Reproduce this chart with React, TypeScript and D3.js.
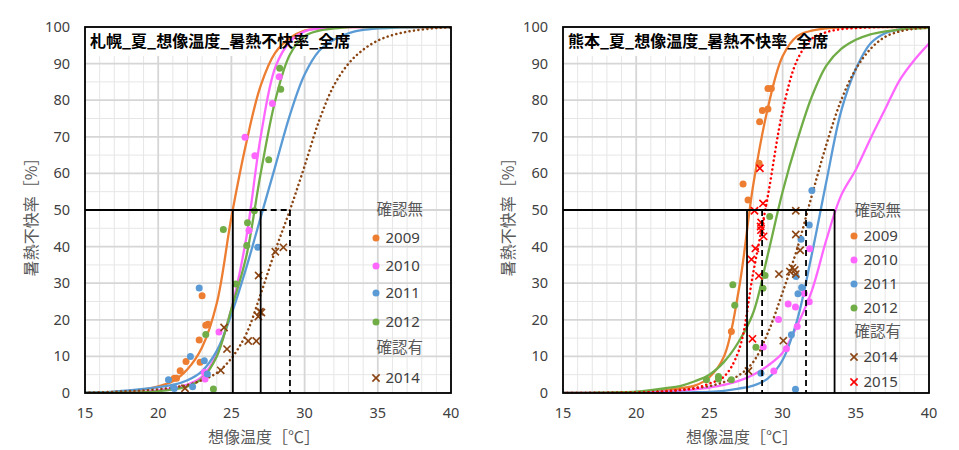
import React from "react";
import * as d3 from "d3";

// ---------- shared axis data ----------
const TEMPS = [15, 16, 17, 18, 19, 20, 21, 22, 23, 24, 25, 26, 27, 28, 29, 30, 31, 32, 33, 34, 35, 36, 37, 38, 39, 40];
const X_TICKS = [15, 20, 25, 30, 35, 40];
const Y_TICKS = [0, 10, 20, 30, 40, 50, 60, 70, 80, 90, 100];
const Y_MINOR = [5, 15, 25, 35, 45, 55, 65, 75, 85, 95];
const X_TITLE = "想像温度［℃］";
const Y_TITLE = "暑熱不快率［%］";
const GROUP_NO = "確認無";
const GROUP_YES = "確認有";

// ---------- Sapporo ----------
const SAP_TITLE = "札幌_夏_想像温度_暑熱不快率_全席";
const SAP_2009_CURVE = [0.1, 0.2, 0.3, 0.5, 1, 1.8, 3.2, 6.5, 12.5, 24.5, 48, 68, 84, 93, 97, 99, 99.6, 99.9, 100, 100, 100, 100, 100, 100, 100, 100];
const SAP_2010_CURVE = [0, 0, 0.05, 0.1, 0.3, 0.7, 1.3, 2.3, 4.5, 10.5, 23, 42, 70, 89, 96, 98.8, 99.6, 100, 100, 100, 100, 100, 100, 100, 100, 100];
const SAP_2011_CURVE = [0.1, 0.2, 0.4, 0.7, 1.1, 1.6, 2.2, 3.5, 6, 11.5, 21.5, 34, 48, 62, 76, 87, 93.5, 96.5, 98.3, 99.2, 99.6, 99.8, 99.9, 100, 100, 100];
const SAP_2012_CURVE = [0, 0, 0.05, 0.1, 0.2, 0.5, 1, 1.8, 4, 10, 23, 37, 60, 80, 92.5, 97.5, 99, 99.6, 100, 100, 100, 100, 100, 100, 100, 100];
const SAP_2014_CURVE = [0.1, 0.2, 0.3, 0.5, 0.7, 1, 1.5, 2.2, 3.5, 5.5, 9.5, 16, 27, 39, 50, 62, 74.5, 84, 90, 93.8, 96.3, 97.8, 98.7, 99.3, 99.7, 99.9];

const SAP_2009_PTS = [[23.0, 26.6], [23.4, 18.8], [23.25, 18.5], [22.8, 14.5], [22.86, 8.4], [21.9, 8.6], [21.5, 6.1], [21.25, 4.0], [21.1, 4.0]];
const SAP_2010_PTS = [[25.93, 69.9], [26.6, 64.8], [26.2, 44.4], [24.15, 16.7], [23.15, 5.7], [23.2, 3.8], [27.8, 79.1], [28.27, 86.4]];
const SAP_2011_PTS = [[22.8, 28.7], [22.2, 10.0], [23.15, 8.8], [23.36, 5.2], [20.7, 3.6], [21.05, 1.6], [21.1, 1.2], [22.35, 1.7], [26.8, 39.8]];
const SAP_2012_PTS = [[28.3, 88.7], [28.37, 83.0], [27.55, 63.7], [26.57, 49.8], [26.1, 46.5], [26.05, 40.3], [24.45, 44.7], [25.3, 29.8], [23.25, 16.0], [23.77, 1.1]];
const SAP_2014_PTS = [[24.5, 17.9], [24.7, 12.0], [24.27, 6.2], [21.83, 1.3], [26.86, 32.1], [26.95, 22.2], [27.05, 22.0], [26.84, 20.9], [26.15, 14.2], [26.7, 14.2], [28.0, 38.6], [28.55, 39.8]];

const SAP_SOLID_REFS = [25.1, 27.0];
const SAP_DASHED_REFS = [29.0];

// ---------- Kumamoto ----------
const KUM_TITLE = "熊本_夏_想像温度_暑熱不快率_全席";
const KUM_2009_CURVE = [0, 0, 0, 0.05, 0.1, 0.2, 0.4, 0.8, 1.3, 2, 4.3, 10, 28, 57, 78, 92, 97.5, 99, 99.6, 99.9, 100, 100, 100, 100, 100, 100];
const KUM_2010_CURVE = [0, 0, 0, 0.05, 0.1, 0.15, 0.25, 0.4, 0.6, 1, 1.5, 2.2, 3.3, 5, 7.5, 11, 18.5, 28, 42, 54, 61, 69.5, 77.5, 85.5, 91, 95.5];
const KUM_2011_CURVE = [0, 0, 0, 0, 0, 0, 0, 0.05, 0.1, 0.2, 0.3, 0.6, 1.2, 2, 4, 9, 20, 38, 58, 77, 88.5, 95.5, 98.3, 99.4, 99.8, 100];
const KUM_2012_CURVE = [0, 0, 0.05, 0.1, 0.2, 0.4, 0.8, 1.3, 1.9, 3.2, 5, 8.5, 14, 22, 38, 55, 69, 81, 89.5, 94, 96.5, 98, 98.8, 99.3, 99.6, 99.8];
const KUM_2014_CURVE = [0, 0, 0.05, 0.1, 0.15, 0.2, 0.3, 0.5, 0.8, 1.3, 1.9, 3, 4.8, 8.5, 16.5, 27.5, 39.5, 54, 68, 80, 88.5, 94, 97.3, 98.8, 99.5, 99.8];
const KUM_2015_CURVE = [0, 0, 0, 0, 0.05, 0.1, 0.2, 0.4, 0.8, 1.3, 2.6, 4.5, 11.5, 33, 54, 77, 91, 96.8, 98.6, 99.4, 99.7, 99.9, 100, 100, 100, 100];

const KUM_2009_PTS = [[29.0, 83.2], [29.23, 83.2], [28.62, 77.2], [29.0, 77.6], [28.43, 74.1], [28.39, 62.8], [27.3, 57.1], [27.64, 52.7], [26.5, 16.8]];
const KUM_2010_PTS = [[31.85, 39.4], [31.82, 24.9], [31.48, 27.2], [30.38, 24.3], [30.88, 23.5], [29.72, 20.1], [31.0, 18.2], [30.26, 12.1], [28.68, 12.6], [29.4, 6.0]];
const KUM_2011_PTS = [[32.0, 55.3], [31.82, 45.9], [31.26, 42.0], [30.92, 31.8], [31.3, 28.8], [31.05, 27.1], [30.6, 15.9], [28.52, 5.4], [30.88, 1.0]];
const KUM_2012_PTS = [[29.12, 48.2], [28.8, 32.1], [28.66, 28.6], [26.6, 29.6], [26.73, 24.0], [28.18, 12.5], [26.5, 3.6], [25.62, 4.5], [25.62, 3.8], [24.8, 3.6]];
const KUM_2014_PTS = [[30.9, 49.8], [30.9, 43.3], [31.2, 39.0], [29.75, 32.5], [30.67, 34.2], [30.83, 33.6], [30.5, 33.2], [30.9, 32.5], [30.05, 14.3], [27.67, 6.0]];
const KUM_2015_PTS = [[28.45, 61.4], [28.66, 51.8], [28.08, 49.8], [28.53, 46.6], [28.5, 45.5], [28.52, 44.5], [28.7, 42.8], [28.14, 39.5], [27.87, 36.5], [28.38, 32.0], [27.94, 14.8]];

const KUM_SOLID_REFS = [27.57, 33.55];
const KUM_DASHED_REFS = [28.6, 31.6];

// ---------- styles ----------
const COLORS: Record<string, string> = {
  "2009": "#ED7D31",
  "2010": "#FF66FF",
  "2011": "#5B9BD5",
  "2012": "#70AD47",
  "2014": "#8B4513",
  "2015": "#FF0000",
};

type Series = { year: string; curve: number[]; pts: number[][]; confirmed: boolean };

const SAP_SERIES: Series[] = [
  { year: "2009", curve: SAP_2009_CURVE, pts: SAP_2009_PTS, confirmed: false },
  { year: "2010", curve: SAP_2010_CURVE, pts: SAP_2010_PTS, confirmed: false },
  { year: "2011", curve: SAP_2011_CURVE, pts: SAP_2011_PTS, confirmed: false },
  { year: "2012", curve: SAP_2012_CURVE, pts: SAP_2012_PTS, confirmed: false },
  { year: "2014", curve: SAP_2014_CURVE, pts: SAP_2014_PTS, confirmed: true },
];
const KUM_SERIES: Series[] = [
  { year: "2009", curve: KUM_2009_CURVE, pts: KUM_2009_PTS, confirmed: false },
  { year: "2010", curve: KUM_2010_CURVE, pts: KUM_2010_PTS, confirmed: false },
  { year: "2011", curve: KUM_2011_CURVE, pts: KUM_2011_PTS, confirmed: false },
  { year: "2012", curve: KUM_2012_CURVE, pts: KUM_2012_PTS, confirmed: false },
  { year: "2014", curve: KUM_2014_CURVE, pts: KUM_2014_PTS, confirmed: true },
  { year: "2015", curve: KUM_2015_CURVE, pts: KUM_2015_PTS, confirmed: true },
];

const FONT = "'Noto Sans', 'Noto Sans CJK JP', sans-serif";
const JFONT = "'Noto Sans CJK JP', 'Noto Sans', sans-serif";

function XMark({ x, y, color, s = 3.6 }: { x: number; y: number; color: string; s?: number }) {
  return (
    <g stroke={color} strokeWidth={1.6}>
      <line x1={x - s} y1={y - s} x2={x + s} y2={y + s} />
      <line x1={x - s} y1={y + s} x2={x + s} y2={y - s} />
    </g>
  );
}

function Chart(props: {
  x0: number;
  title: string;
  series: Series[];
  solidRefs: number[];
  dashedRefs: number[];
  legendYs: number[];
  labelRight: number;
  yTitleX: number;
}) {
  const { x0, title, series, solidRefs, dashedRefs, legendYs, labelRight, yTitleX } = props;
  const plotW = 366;
  const top = 27;
  const bottom = 393;
  const x = d3.scaleLinear().domain([15, 40]).range([x0, x0 + plotW]);
  const y = d3.scaleLinear().domain([0, 100]).range([bottom, top]).clamp(true);
  const line = d3
    .line<number>()
    .x((_, i) => x(TEMPS[i]))
    .y((d) => y(d))
    .curve(d3.curveCatmullRom.alpha(0.5));

  const maxSolid = d3.max(solidRefs) as number;
  const maxDashed = d3.max(dashedRefs) as number;

  const rows: { kind: "head" | "item"; text: string; s?: Series }[] = [];
  rows.push({ kind: "head", text: GROUP_NO });
  series.filter((s) => !s.confirmed).forEach((s) => rows.push({ kind: "item", text: s.year, s }));
  rows.push({ kind: "head", text: GROUP_YES });
  series.filter((s) => s.confirmed).forEach((s) => rows.push({ kind: "item", text: s.year, s }));
  const legX = x0 + 282;

  return (
    <g>
      <defs>
        <clipPath id={"clip" + x0}>
          <rect x={x0} y={top} width={plotW} height={bottom - top} />
        </clipPath>
      </defs>
      {TEMPS.filter((t) => t % 5 !== 0).map((t) => (
        <line key={"xm" + t} x1={x(t)} x2={x(t)} y1={top} y2={bottom} stroke="#e6e6e6" strokeWidth={1} />
      ))}
      {Y_MINOR.map((v) => (
        <line key={"ym" + v} x1={x0} x2={x0 + plotW} y1={y(v)} y2={y(v)} stroke="#e6e6e6" strokeWidth={1} />
      ))}
      {X_TICKS.map((t) => (
        <line key={"xg" + t} x1={x(t)} x2={x(t)} y1={top} y2={bottom} stroke="#d6d6d6" strokeWidth={1.8} />
      ))}
      {Y_TICKS.map((v) => (
        <line key={"yg" + v} x1={x0} x2={x0 + plotW} y1={y(v)} y2={y(v)} stroke="#d6d6d6" strokeWidth={1.8} />
      ))}
      <rect x={x0 + 1} y={top + 1} width={246} height={28} fill="#fff" />

      <g clipPath={`url(#clip${x0})`}>
        {series.map((s) => (
          <path
            key={"c" + s.year}
            d={line(s.curve) || ""}
            fill="none"
            stroke={COLORS[s.year]}
            strokeWidth={s.confirmed ? 2.5 : 2.3}
            strokeDasharray={s.confirmed ? "0.1 4.4" : undefined}
            strokeLinecap={s.confirmed ? "round" : "butt"}
          />
        ))}
      </g>
      {series.map((s) =>
        s.pts.map((p, i) =>
          s.confirmed ? (
            <XMark key={"p" + s.year + i} x={x(p[0])} y={y(p[1])} color={COLORS[s.year]} />
          ) : (
            <circle key={"p" + s.year + i} cx={x(p[0])} cy={y(p[1])} r={3.5} fill={COLORS[s.year]} />
          )
        )
      )}

      <line x1={x(15)} x2={x(maxSolid)} y1={y(50)} y2={y(50)} stroke="#000" strokeWidth={1.8} />
      {maxDashed > maxSolid && (
        <line x1={x(maxSolid)} x2={x(maxDashed)} y1={y(50)} y2={y(50)} stroke="#000" strokeWidth={1.8} strokeDasharray="6 4" />
      )}
      {solidRefs.map((t) => (
        <line key={"sr" + t} x1={x(t)} x2={x(t)} y1={y(50)} y2={y(0)} stroke="#000" strokeWidth={1.8} />
      ))}
      {dashedRefs.map((t) => (
        <line key={"dr" + t} x1={x(t)} x2={x(t)} y1={y(50)} y2={y(0)} stroke="#000" strokeWidth={1.8} strokeDasharray="6 4" />
      ))}

      <rect x={x0} y={top} width={plotW} height={bottom - top} fill="none" stroke="#000" strokeWidth={1.8} />

      <text x={x0 + 5} y={top + 20} fontFamily={JFONT} fontWeight="bold" fontSize={16} fill="#000">
        {title}
      </text>

      {Y_TICKS.map((v) => (
        <text key={"yl" + v} x={labelRight} y={y(v)} dy="0.35em" textAnchor="end" fontFamily={FONT} fontSize={14.5} fill="#404040">
          {v}
        </text>
      ))}
      {X_TICKS.map((t) => (
        <text key={"xl" + t} x={x(t)} y={413} dy="0.35em" textAnchor="middle" fontFamily={FONT} fontSize={14.5} fill="#404040">
          {t}
        </text>
      ))}
      <text x={x0 + plotW / 2 - 4} y={437} dy="0.35em" textAnchor="middle" fontFamily={JFONT} fontSize={16} fill="#595959">
        {X_TITLE}
      </text>
      <text
        transform={`translate(${yTitleX},${(top + bottom) / 2 + 3}) rotate(-90)`}
        dy="0.35em"
        textAnchor="middle"
        fontFamily={JFONT}
        fontSize={16}
        fill="#595959"
      >
        {Y_TITLE}
      </text>

      {rows.map((r, i) => (
        <g key={"lg" + i}>
          {r.kind === "item" && r.s ? (
            r.s.confirmed ? (
              <XMark x={legX + 9} y={legendYs[i]} color={COLORS[r.s.year]} s={3.6} />
            ) : (
              <circle cx={legX + 9} cy={legendYs[i]} r={3.5} fill={COLORS[r.s.year]} />
            )
          ) : null}
          <text
            x={legX + (r.kind === "head" ? 9.5 : 18.5)}
            y={legendYs[i]}
            dy="0.35em"
            fontFamily={r.kind === "head" ? JFONT : FONT}
            fontSize={r.kind === "head" ? 15.5 : 15}
            fill={r.kind === "head" ? "#595959" : "#404040"}
          >
            {r.text}
          </text>
        </g>
      ))}
    </g>
  );
}

export default function App() {
  return (
    <svg width={959} height={450} style={{ position: "absolute", left: 0, top: 0, background: "#fff" }}>
      <rect width={959} height={450} fill="#fff" />
      <Chart
        x0={85}
        title={SAP_TITLE}
        series={SAP_SERIES}
        solidRefs={SAP_SOLID_REFS}
        dashedRefs={SAP_DASHED_REFS}
        legendYs={[210, 238, 266, 293, 322, 348, 378]}
        labelRight={70}
        yTitleX={31}
      />
      <Chart
        x0={563}
        title={KUM_TITLE}
        series={KUM_SERIES}
        solidRefs={KUM_SOLID_REFS}
        dashedRefs={KUM_DASHED_REFS}
        legendYs={[211, 236, 260, 284, 308, 332, 357, 382]}
        labelRight={548}
        yTitleX={508}
      />
    </svg>
  );
}
